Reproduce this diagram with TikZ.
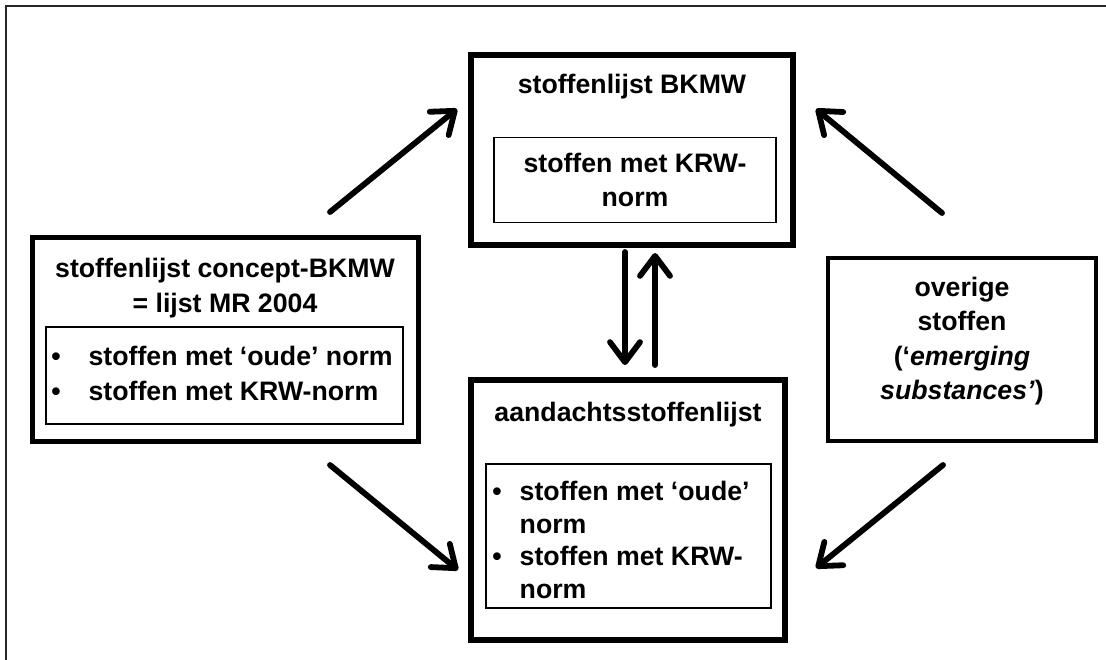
\documentclass[tikz,border=0pt]{standalone}
\usepackage{fontspec}
\setmainfont{Liberation Sans}
\usetikzlibrary{arrows.meta}
\tikzset{
  bigbox/.style={draw, line width=3pt, inner sep=0pt},
  subbox/.style={draw, line width=0.8pt, inner sep=0pt},
  lbl/.style={font=\bfseries\fontsize{13.35}{17.2}\selectfont, inner sep=0pt, align=center},
  flow/.style={line width=2.9pt, line cap=round,
    -{Straight Barb[length=10pt,width=15pt,line cap=round,line join=round]}}
}

\begin{document}
\begin{tikzpicture}[x=0.5pt,y=-0.5pt]
\useasboundingbox (0,0) rectangle (1106,659);
\draw[line width=1pt, black!85] (1112,6) -- (6,6) -- (6,665);

% stoffenlijst BKMW
\node[bigbox, minimum width=161pt, minimum height=95pt] (bkmw) at (632,150) {};
\node[lbl] (bkmwtitle) at (632,87) {stoffenlijst BKMW};
\node[lbl, subbox, minimum width=141pt, minimum height=42.5pt] (bkmwlist) at (635,180) {stoffen met KRW-\\norm};

% concept-BKMW
\node[bigbox, line width=2.5pt, minimum width=193pt, minimum height=102pt] (concept) at (225,339) {};
\node[lbl] (concepttitle) at (225,288) {stoffenlijst concept-BKMW\\= lijst MR 2004};
\node[subbox, minimum width=178.5pt, minimum height=48.5pt] (conceptlist) at (224.5,375.5) {};
\node[lbl] (conceptitems) at (222,376) {\begin{tabular}{@{}l@{\hspace{14pt}}l@{}}
\textbullet & stoffen met ‘oude’ norm\\
\textbullet & stoffen met KRW-norm
\end{tabular}};

% aandachtsstoffenlijst
\node[bigbox, minimum width=157pt, minimum height=130pt] (aandacht) at (628,510) {};
\node[lbl] (aandachttitle) at (628,415) {aandachtsstoffenlijst};
\node[subbox, minimum width=142.5pt, minimum height=72pt] (aandachtlist) at (628.5,536) {};
\node[lbl, font=\bfseries\fontsize{13.35}{16.4}\selectfont] (aandachtitems) at (621,543) {\begin{tabular}{@{}l@{\hspace{9pt}}l@{}}
\textbullet & stoffen met ‘oude’\\
 & norm\\
\textbullet & stoffen met KRW-\\
 & norm
\end{tabular}};

% overige stoffen
\node[bigbox, line width=2pt, minimum width=134pt, minimum height=91.5pt] (overige) at (962,349.5) {};
\node[lbl] (overigetext) at (962,341) {overige\\stoffen\\(‘\textit{emerging}\\\textit{substances’})};

% pijlen
\coordinate (c1) at (330,212); \coordinate (k1) at (457,109);
\coordinate (c2) at (330,465); \coordinate (k2) at (458,570);
\coordinate (o1) at (942,213); \coordinate (k3) at (816,109);
\coordinate (o2) at (943,465); \coordinate (k4) at (816,568);
\coordinate (d1) at (625,252); \coordinate (d2) at (625,365);
\coordinate (u1) at (655,365); \coordinate (u2) at (655,253);

\foreach \s/\e in {c1/k1, c2/k2, o1/k3, o2/k4, d1/d2, u1/u2}
  \draw[flow] (\s) -- (\e);

\end{tikzpicture}
\end{document}
